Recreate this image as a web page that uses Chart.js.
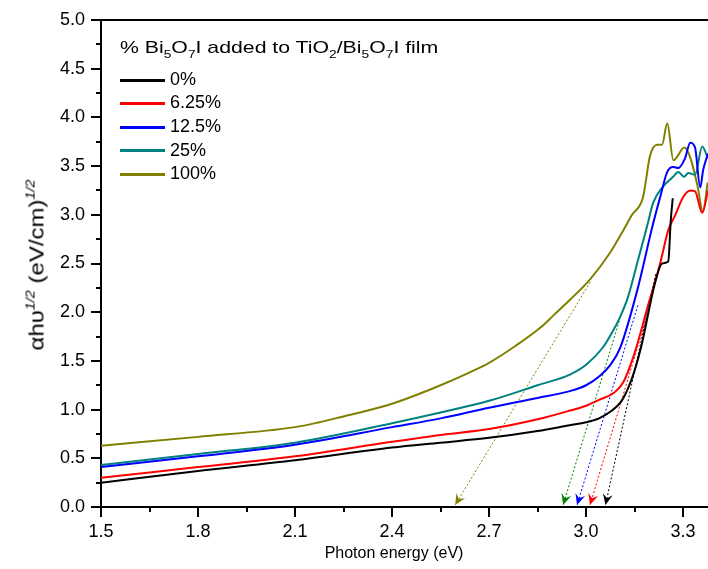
<!DOCTYPE html>
<html>
<head>
<meta charset="utf-8">
<script src="https://cdn.jsdelivr.net/npm/chart.js@4.4.1/dist/chart.umd.min.js"></script>
<style>
  body { margin: 0; background: #fff; }
  #wrap { position: relative; width: 708px; height: 569px; font-family: "Liberation Sans", Arial, sans-serif; color: #000; }
  #chart { position: absolute; left: 0; top: 0; }
  .txt { position: absolute; white-space: nowrap; }
  #ytitle { left: 36px; top: 265px; font-size: 20px; transform: translate(-50%, -50%) rotate(-90deg) scaleX(1.2); }
  #ytitle sup { font-size: 12px; font-style: italic; vertical-align: 9px; }
  #xtitle { left: 394px; top: 553px; font-size: 16px; transform: translate(-50%, -50%); }
  #legtitle { left: 120px; top: 38px; font-size: 17px; line-height: 20px; transform: scaleX(1.25); transform-origin: left center; }
  #legtitle sub { font-size: 11px; vertical-align: -5px; }
  .row { position: absolute; left: 120px; height: 20px; line-height: 20px; font-size: 18px; }
  .row span.sw { display: inline-block; width: 45px; height: 3px; vertical-align: middle; margin-right: 5px; }
</style>
</head>
<body>
<div id="wrap">
  <canvas id="chart" width="708" height="569"></canvas>
  <div class="txt" id="ytitle">αhυ<sup>1/2</sup> (eV/cm)<sup>1/2</sup></div>
  <div class="txt" id="xtitle">Photon energy (eV)</div>
  <div class="txt" id="legtitle">% Bi<sub>5</sub>O<sub>7</sub>I added to TiO<sub>2</sub>/Bi<sub>5</sub>O<sub>7</sub>I film</div>
  <div id="legend"></div>
</div>
<script>
// Tauc plots, (alpha h nu)^1/2 vs photon energy, one curve per Bi5O7I content
const labels = ['0%', '6.25%', '12.5%', '25%', '100%'];
const colors = ['#000000', '#ff0000', '#0000ff', '#008080', '#808000'];

const energy0 = [1.5, 1.8, 2.1, 2.4, 2.55, 2.7, 2.85, 2.95, 3.0, 3.04, 3.08, 3.11, 3.13, 3.15, 3.17, 3.214, 3.235, 3.254, 3.262, 3.268];
const tauc0   = [0.25, 0.37, 0.48, 0.61, 0.66, 0.71, 0.78, 0.84, 0.87, 0.91, 0.99, 1.09, 1.22, 1.40, 1.64, 2.31, 2.50, 2.52, 2.95, 3.17];

const energy1 = [1.5, 1.8, 2.1, 2.4, 2.55, 2.7, 2.85, 2.95, 3.0, 3.04, 3.085, 3.115, 3.15, 3.19, 3.229, 3.254, 3.276, 3.30, 3.322, 3.337, 3.359, 3.377];
const tauc1   = [0.30, 0.41, 0.52, 0.67, 0.74, 0.80, 0.90, 0.99, 1.04, 1.10, 1.17, 1.28, 1.58, 2.05, 2.50, 2.84, 3.00, 3.18, 3.25, 3.24, 3.02, 3.25];

const energy2 = [1.5, 1.8, 2.1, 2.4, 2.55, 2.7, 2.85, 2.95, 3.0, 3.044, 3.075, 3.105, 3.161, 3.205, 3.229, 3.251, 3.270, 3.285, 3.306, 3.322, 3.337, 3.353, 3.362, 3.377];
const tauc2   = [0.41, 0.52, 0.64, 0.82, 0.91, 1.02, 1.12, 1.19, 1.25, 1.35, 1.46, 1.63, 2.26, 2.88, 3.18, 3.44, 3.49, 3.48, 3.58, 3.74, 3.69, 3.28, 3.46, 3.63];

const energy3 = [1.5, 1.8, 2.1, 2.4, 2.55, 2.7, 2.85, 2.95, 3.0, 3.05, 3.08, 3.105, 3.13, 3.161, 3.19, 3.207, 3.238, 3.269, 3.285, 3.303, 3.316, 3.337, 3.359, 3.377];
const tauc3   = [0.43, 0.545, 0.66, 0.86, 0.97, 1.09, 1.25, 1.36, 1.46, 1.63, 1.79, 1.95, 2.16, 2.54, 2.90, 3.12, 3.29, 3.39, 3.44, 3.39, 3.43, 3.41, 3.70, 3.58];

const energy4 = [1.5, 1.8, 2.1, 2.175, 2.25, 2.325, 2.4, 2.475, 2.55, 2.625, 2.7, 2.78, 2.858, 2.9, 2.951, 3.013, 3.074, 3.115, 3.142, 3.176, 3.198, 3.220, 3.235, 3.251, 3.270, 3.304, 3.323, 3.345, 3.361, 3.376];
const tauc4   = [0.63, 0.72, 0.82, 0.87, 0.93, 0.99, 1.06, 1.15, 1.25, 1.36, 1.48, 1.65, 1.84, 1.97, 2.13, 2.34, 2.61, 2.84, 3.00, 3.18, 3.61, 3.72, 3.72, 3.94, 3.56, 3.69, 3.58, 3.29, 3.03, 3.33];

// extrapolated band-gap lines (start on the curve, arrow at the energy axis)
const fitColors = ['#000000', '#ff0000', '#0000ff', '#008000', '#808000'];
const fitFromX = [3.215, 3.20, 3.16, 3.11, 3.013];
const fitFromY = [2.39, 2.09, 2.07, 1.99, 2.31];
const fitToX   = [3.06, 3.012, 2.972, 2.929, 2.595];
const fitToY   = [0.02, 0.02, 0.02, 0.02, 0.02];

const xTicks = { min: 1.5, max: 3.377, last: 3.3, step: 0.15, major: 0.3 };
const yTicks = { min: 0, max: 5, last: 5, step: 0.25, major: 0.5 };

const energies = [energy0, energy1, energy2, energy3, energy4];
const taucs = [tauc0, tauc1, tauc2, tauc3, tauc4];

function isMajor(v, base, major) {
  const r = (v - base) / major;
  return Math.abs(r - Math.round(r)) < 1e-6;
}

function tickList(t) {
  const out = [];
  const n = Math.round((t.last - t.min) / t.step);
  for (let i = 0; i <= n; i++) out.push({ value: +(t.min + i * t.step).toFixed(4) });
  return out;
}

const datasets = labels.map((lab, i) => ({
  label: lab,
  data: energies[i].map((x, j) => ({ x: x, y: taucs[i][j] })),
  borderColor: colors[i],
  borderWidth: 2,
  pointRadius: 0,
  cubicInterpolationMode: 'monotone',
  fill: false
}));

fitColors.forEach((c, i) => {
  datasets.push({
    label: 'fit' + i,
    isFit: true,
    data: [{ x: fitFromX[i], y: fitFromY[i] }, { x: fitToX[i], y: fitToY[i] }],
    borderColor: c,
    borderWidth: 1,
    borderDash: [2, 2],
    pointRadius: 0,
    fill: false
  });
});

// arrowheads at the end of the fit lines, minor ticks, top frame line
const extras = {
  id: 'extras',
  afterDatasetsDraw(chart) {
    const ctx = chart.ctx;
    chart.data.datasets.forEach((ds, i) => {
      if (!ds.isFit) return;
      const pts = chart.getDatasetMeta(i).data;
      const a = pts[0], b = pts[1];
      let dx = b.x - a.x, dy = b.y - a.y;
      const len = Math.hypot(dx, dy);
      dx /= len; dy /= len;
      const nx = -dy, ny = dx;
      const L = 11, W = 5, notch = 4;
      ctx.save();
      ctx.fillStyle = ds.borderColor;
      ctx.beginPath();
      ctx.moveTo(b.x, b.y);
      ctx.lineTo(b.x - L * dx + W * nx, b.y - L * dy + W * ny);
      ctx.lineTo(b.x - (L - notch) * dx, b.y - (L - notch) * dy);
      ctx.lineTo(b.x - L * dx - W * nx, b.y - L * dy - W * ny);
      ctx.closePath();
      ctx.fill();
      ctx.restore();
    });
  },
  afterDraw(chart) {
    const ctx = chart.ctx, area = chart.chartArea;
    const xs = chart.scales.x, ys = chart.scales.y;
    ctx.save();
    ctx.strokeStyle = '#000';
    ctx.lineWidth = 2;
    ctx.beginPath();
    xs.ticks.forEach(t => {
      if (isMajor(t.value, xTicks.min, xTicks.major)) return;
      const p = Math.round(xs.getPixelForValue(t.value));
      ctx.moveTo(p, area.bottom);
      ctx.lineTo(p, area.bottom + 5);
    });
    ys.ticks.forEach(t => {
      if (isMajor(t.value, yTicks.min, yTicks.major)) return;
      const p = Math.round(ys.getPixelForValue(t.value));
      ctx.moveTo(area.left - 5, p);
      ctx.lineTo(area.left, p);
    });
    ctx.moveTo(area.left, area.top);
    ctx.lineTo(area.right, area.top);
    ctx.stroke();
    ctx.restore();
  }
};

const tickFont = { family: '"Liberation Sans", Arial, sans-serif', size: 18 };

new Chart(document.getElementById('chart'), {
  type: 'line',
  data: { datasets: datasets },
  options: {
    responsive: false,
    animation: false,
    devicePixelRatio: 1,
    layout: { padding: { top: 20, right: 0, left: 0, bottom: 0 } },
    plugins: { legend: { display: false }, tooltip: { enabled: false } },
    scales: {
      x: {
        type: 'linear',
        min: xTicks.min,
        max: xTicks.max,
        afterFit: s => { s.height = 62; },
        afterBuildTicks: s => { s.ticks = tickList(xTicks); },
        ticks: {
          autoSkip: false,
          maxRotation: 0,
          padding: 4,
          color: '#000',
          font: tickFont,
          callback: v => isMajor(v, xTicks.min, xTicks.major) ? v.toFixed(1) : ''
        },
        grid: {
          drawOnChartArea: false,
          tickLength: 10,
          lineWidth: 2,
          color: c => (c.tick && isMajor(c.tick.value, xTicks.min, xTicks.major)) ? '#000' : 'rgba(0,0,0,0)'
        },
        border: { display: true, color: '#000', width: 2 }
      },
      y: {
        min: yTicks.min,
        max: yTicks.max,
        afterFit: s => { s.width = 101; },
        afterBuildTicks: s => { s.ticks = tickList(yTicks); },
        ticks: {
          autoSkip: false,
          padding: 6,
          color: '#000',
          font: tickFont,
          callback: v => isMajor(v, yTicks.min, yTicks.major) ? v.toFixed(1) : ''
        },
        grid: {
          drawOnChartArea: false,
          tickLength: 10,
          lineWidth: 2,
          color: c => (c.tick && isMajor(c.tick.value, yTicks.min, yTicks.major)) ? '#000' : 'rgba(0,0,0,0)'
        },
        border: { display: true, color: '#000', width: 2 }
      }
    }
  },
  plugins: [extras]
});

// legend rows under the legend title
const rowCenters = [79, 102, 126, 149.5, 173];
const legend = document.getElementById('legend');
labels.forEach((lab, i) => {
  const row = document.createElement('div');
  row.className = 'row';
  row.style.top = (rowCenters[i] - 10) + 'px';
  const sw = document.createElement('span');
  sw.className = 'sw';
  sw.style.background = colors[i];
  row.appendChild(sw);
  row.appendChild(document.createTextNode(lab));
  legend.appendChild(row);
});
</script>
</body>
</html>
